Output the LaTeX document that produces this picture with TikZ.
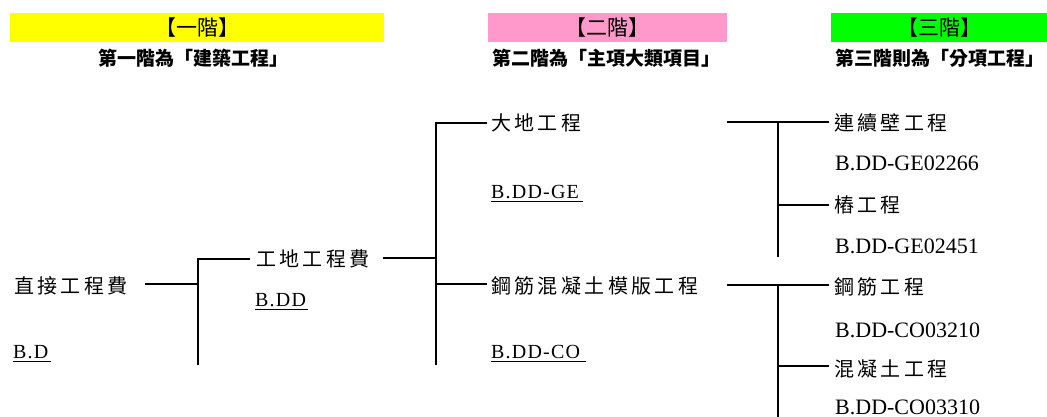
\documentclass[tikz,border=0pt]{standalone}
\usepackage{fontspec}
\setmainfont{Liberation Serif}
\newfontfamily\cjk{Noto Sans CJK TC}
\newfontfamily\cjksp[LetterSpace=17]{Noto Sans CJK TC}
\newfontfamily\codesp[LetterSpace=6]{Liberation Serif}
\definecolor{bandyellow}{HTML}{FFFF00}
\definecolor{bandpink}{HTML}{FF99CC}
\definecolor{bandgreen}{HTML}{00FF00}
\tikzset{
  band/.style={inner sep=0pt, minimum height=29pt, font=\cjk\fontsize{21}{23}\selectfont},
  sub/.style={inner sep=0pt, font=\cjk\bfseries\fontsize{19}{21}\selectfont},
  item/.style={inner sep=0pt, anchor=west, font=\cjksp\fontsize{20}{22}\selectfont},
  code/.style={inner sep=0pt, anchor=base west, font=\codesp\fontsize{20}{22}\selectfont},
  bigcode/.style={inner sep=0pt, anchor=base west, font=\fontsize{22}{24}\selectfont},
  thin/.style={line width=1.2pt},
  thickl/.style={line width=2.5pt},
  midl/.style={line width=2pt},
  uline/.style={line width=1pt}
}
\begin{document}
\begin{tikzpicture}[x=1pt,y=-1pt]
\useasboundingbox (0,0) rectangle (1047,417);
% headers
\node[band, fill=bandyellow, minimum width=374pt] (h1) at (197,27.5) {【一階】};
\node[band, fill=bandpink, minimum width=239pt] (h2) at (607.5,27.5) {【二階】};
\node[band, fill=bandgreen, minimum width=216pt] (h3) at (939,27.5) {【三階】};
\node[sub] (s1) at (193,58) {第一階為「建築工程」};
\node[sub] (s2) at (606,58) {第二階為「主項大類項目」};
\node[sub] (s3) at (940,58) {第三階則為「分項工程」};

% level 1
\node[item] (a) at (14,286) {直接工程費};
\node[code] (ac) at (13,358) {B.D};
% level 1.5
\node[item] (b) at (256,259) {工地工程費};
\node[code] (bc) at (255,306) {B.DD};
% level 2
\node[item] (c1) at (491,123) {大地工程};
\node[code] (c1c) at (491,198) {B.DD-GE};
\node[item] (c2) at (491,286) {鋼筋混凝土模版工程};
\node[code] (c2c) at (491,358) {B.DD-CO};
% level 3
\node[item] (d1) at (834,123) {連續壁工程};
\node[bigcode] (d1c) at (835,171) {B.DD-GE02266};
\node[item] (d2) at (834,205) {樁工程};
\node[bigcode] (d2c) at (835,253) {B.DD-GE02451};
\node[item] (d3) at (834,287) {鋼筋工程};
\node[bigcode] (d3c) at (835,337) {B.DD-CO03210};
\node[item] (d4) at (834,369) {混凝土工程};
\node[bigcode] (d4c) at (835,414) {B.DD-CO03310};

% underlines
\foreach \n/\w in {ac/38, bc/53, c1c/92, c2c/95}{
  \draw[uline] ([yshift=-3.5pt]\n.base west) -- ++(\w,0);
}

% coordinates
\coordinate (a1) at (145,284);
\coordinate (j1) at (198,284);
\coordinate (j1t) at (198,259);
\coordinate (j1b) at (198,365);
\coordinate (b0) at (250,259);
\coordinate (b1) at (383,258);
\coordinate (j2m) at (436,258);
\coordinate (j2t) at (436,122);
\coordinate (j2b) at (436,365);
\coordinate (j2a) at (436,123);
\coordinate (c1l) at (487,123);
\coordinate (j2c) at (436,284);
\coordinate (c2l) at (487,284);
\coordinate (e1) at (727,122);
\coordinate (k1) at (778,122);
\coordinate (k1b) at (778,257);
\coordinate (d1l) at (829,122);
\coordinate (k2) at (778,205);
\coordinate (d2l) at (829,205);
\coordinate (e2) at (727,285);
\coordinate (k3) at (778,285);
\coordinate (k3b) at (778,417);
\coordinate (d3l) at (829,285);
\coordinate (k4) at (778,366);
\coordinate (d4l) at (829,366);

% connectors
\draw[thickl] (a1) -- (j1);
\draw[thin] (j1b) -- (j1t) -- (b0);
\draw[thin] (b1) -- (j2m);
\draw[thickl] (j2t) -- (j2b);
\draw[thickl] (j2a) -- (c1l);
\draw[thickl] (j2c) -- (c2l);
\draw[midl] (e1) -- (d1l);
\draw[thin] (k1) -- (k1b);
\draw[thickl] (k2) -- (d2l);
\draw[midl] (e2) -- (d3l);
\draw[thin] (k3) -- (k3b);
\draw[thickl] (k4) -- (d4l);
\end{tikzpicture}
\end{document}
